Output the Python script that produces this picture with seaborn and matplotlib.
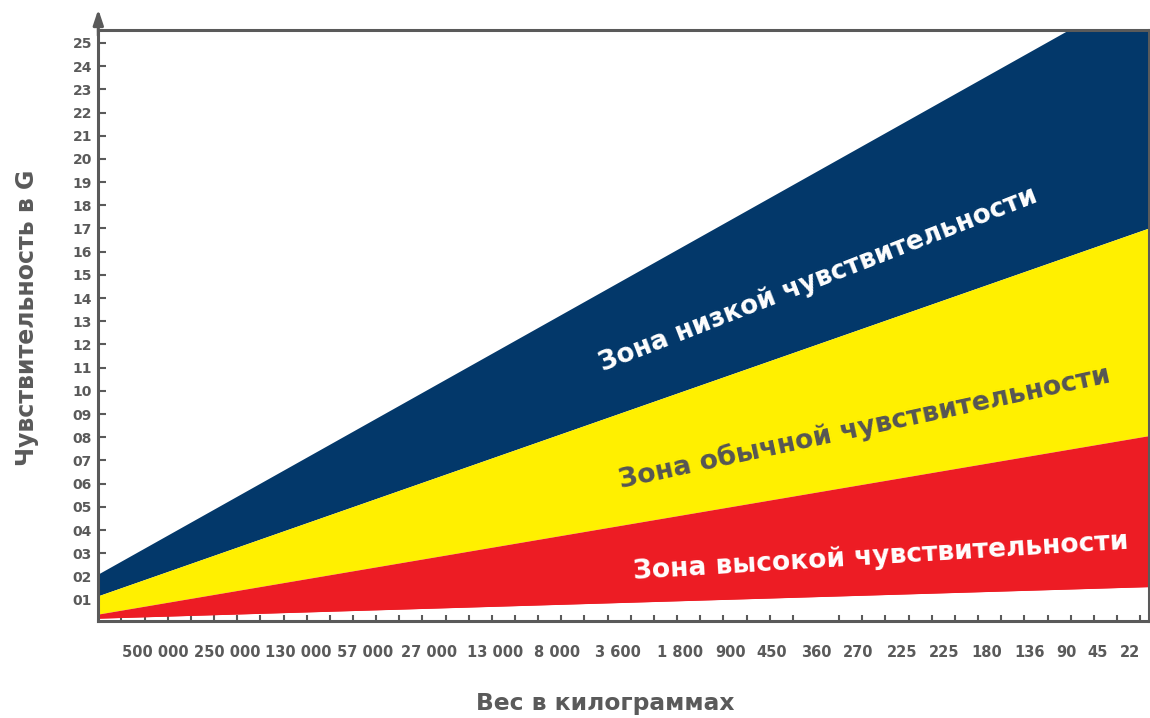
import numpy as np
import pandas as pd
import matplotlib
matplotlib.use('Agg')
import matplotlib.pyplot as plt
import seaborn as sns

# Dados
x_span = [0, 45.37]                 # extremos do eixo de peso (unidades de marca)
red_low = [0.20, 1.56]              # limite inferior da zona vermelha
red_high = [0.38, 8.07]             # zona de alta sensibilidade (topo)
yellow_high = [1.17, 17.02]         # zona normal (topo)
navy_high = [2.11, 27.5]            # zona de baixa sensibilidade (topo)

y_ticks = list(range(1, 26))
x_labels = ['500 000', '250 000', '130 000', '57 000', '27 000', '13 000', '8 000',
            '3 600', '1 800', '900', '450', '360', '270', '225', '225', '180',
            '136', '90', '45', '22']
x_label_pos = [2.45, 5.56, 8.63, 11.52, 14.28, 17.14, 19.82, 22.45, 25.13, 27.29,
               29.1, 31.0, 32.81, 34.71, 36.52, 38.38, 40.24, 41.8, 43.18, 44.56]

zonas = ['Зона низкой чувствительности', 'Зона обычной чувствительности',
         'Зона высокой чувствительности']

navy = '#03386A'
yellow = '#FFF000'
red = '#ED1C24'
grey = '#5A5A5A'

df = pd.DataFrame({'x': x_span, 'red_low': red_low, 'red_high': red_high,
                   'yellow_high': yellow_high, 'navy_high': navy_high})

sns.set_theme(style='white')
plt.rcParams['font.family'] = ['DejaVu Sans']
plt.rcParams['font.weight'] = 'bold'

fig = plt.figure(figsize=(11.5, 7.18), dpi=100)
ax = fig.add_axes([0.08548, 0.13510, 0.91339, 0.82354])

# Faixas
ax.fill_between(df['x'], df['yellow_high'], df['navy_high'], color=navy, lw=0, zorder=1)
ax.fill_between(df['x'], df['red_high'], df['yellow_high'], color=yellow, lw=0, zorder=1)
ax.fill_between(df['x'], df['red_low'], df['red_high'], color=red, lw=0, zorder=1)
sns.lineplot(data=df, x='x', y='red_low', color=red, lw=0.6, ax=ax, zorder=1)

ax.set_xlim(0, 45.37)
ax.set_ylim(0.08, 25.57)

# Eixo Y
ax.set_yticks(y_ticks)
ax.set_yticklabels([f'{v:02d}' for v in y_ticks])
ax.tick_params(axis='y', direction='in', length=5.5, width=1.5, color=grey,
               labelsize=10, labelcolor=grey, pad=4.5, left=True)

# Eixo X: marcas menores + rótulos
ax.set_xticks(x_label_pos)
ax.set_xticklabels(x_labels)
ax.set_xticks(np.arange(1, 46), minor=True)
ax.tick_params(axis='x', which='major', length=0, labelsize=10.5, labelcolor=grey, pad=17)
ax.tick_params(axis='x', which='minor', direction='in', length=4.5, width=1.5,
               color=grey, bottom=True)

for s in ax.spines.values():
    s.set_color(grey)
    s.set_linewidth(2.2)
    s.set_zorder(3)

# Seta do eixo Y
ax.annotate('', xy=(0, 1.0345), xytext=(0, 0.99), xycoords='axes fraction',
            arrowprops=dict(arrowstyle='-|>,head_length=0.9,head_width=0.3',
                            color=grey, lw=2.2, mutation_scale=10, shrinkA=0, shrinkB=0),
            annotation_clip=False)

ax.set_xlabel('Вес в килограммах', fontsize=16.8, fontweight='bold', color=grey)
ax.xaxis.label.set_va('center')
ax.xaxis.set_label_coords(0.483, -0.140)
ax.set_ylabel('Чувствительность в G', fontsize=17, fontweight='bold', color=grey)
ax.yaxis.label.set_va('center')
ax.yaxis.set_label_coords(-0.068, 0.512)

# Textos das zonas
ax.text(31.09, 14.78, zonas[0], color='white', fontsize=18.8, fontweight='bold',
        rotation=21.3, ha='center', va='center', rotation_mode='anchor', zorder=4)
ax.text(33.08, 8.40, zonas[1], color='#555555', fontsize=19.2, fontweight='bold',
        rotation=12.2, ha='center', va='center', rotation_mode='anchor', zorder=4)
ax.text(33.81, 2.84, zonas[2], color='white', fontsize=19.1, fontweight='bold',
        rotation=3.5, ha='center', va='center', rotation_mode='anchor', zorder=4)

plt.savefig('out.png', dpi=100)
